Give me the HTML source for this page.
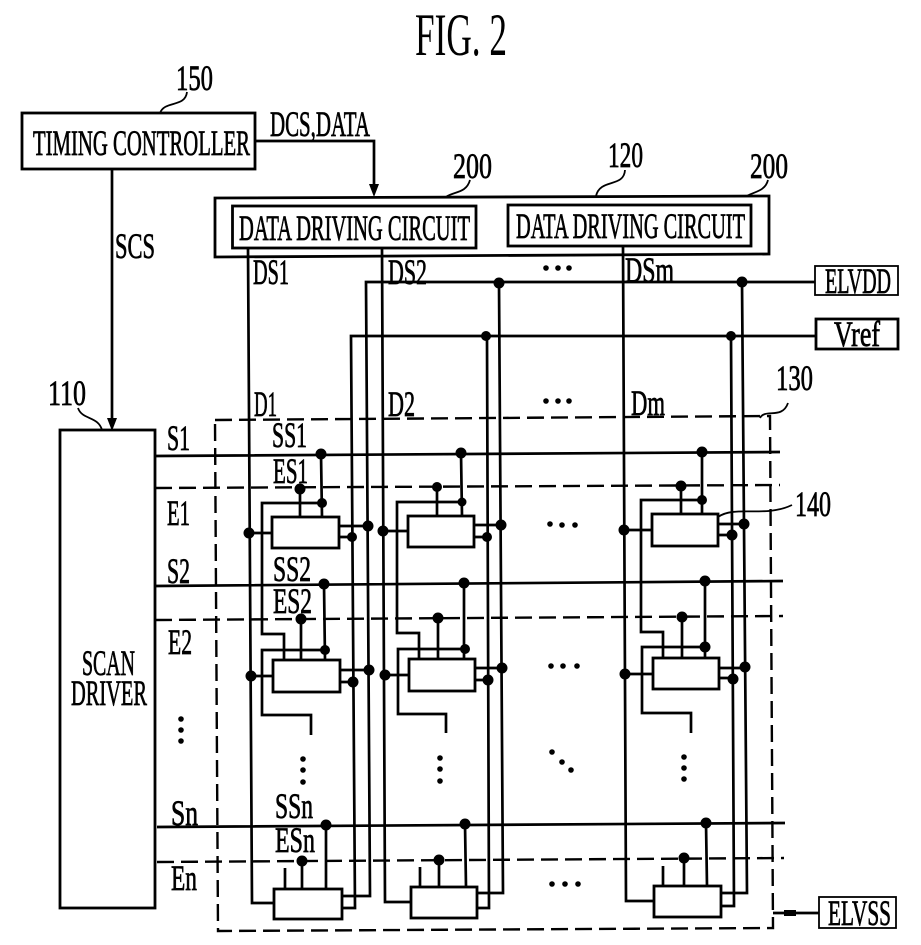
<!DOCTYPE html>
<html><head><meta charset="utf-8"><style>
html,body{margin:0;padding:0;background:#fff}
svg{display:block}
.l{fill:none;stroke:#000;stroke-width:2.7}
.th{fill:none;stroke:#000;stroke-width:1.8}
.d{fill:none;stroke:#000;stroke-width:2.4;stroke-dasharray:17 7}
.b{fill:#fff;stroke:#000;stroke-width:2.8}
text{font-family:"Liberation Serif",serif;font-size:36px;fill:#000;stroke:#000;stroke-width:.75}
</style></head><body>
<svg width="921" height="945" viewBox="0 0 921 945" xmlns="http://www.w3.org/2000/svg">
<rect width="921" height="945" fill="#fff"/>
<text x="415" y="55" style="font-size:60px;stroke-width:0" textLength="92" lengthAdjust="spacingAndGlyphs">FIG. 2</text>

<!-- dashed panel -->
<path class="d" d="M215 420L770 416L773 928L218 931Z"/>
<path class="d" d="M155 488L780 485M155 620L783 616M157 862L784 858"/>

<!-- leaders -->
<path class="th" d="M187 92C185 108 165 100 160 113M625 170C624 188 600 178 596 196M470 180C465 198 445 188 440 206M768 180C764 196 744 190 739 205M788 403C782 420 765 408 760 418M102 430C98 416 82 420 78 408M718 517C735 505 765 518 792 505"/>

<!-- boxes top -->
<rect class="b" x="22" y="113" width="233" height="56"/>
<path class="b" d="M215 198L769 196L769 254L215 257Z"/>
<rect class="b" x="232.500" y="206" width="243.500" height="42"/>
<rect class="b" x="508" y="205" width="243" height="41"/>
<rect class="b" x="60" y="430" width="95" height="478"/>
<rect class="th" x="815" y="266" width="83" height="29"/>
<rect class="b" x="816" y="319" width="82" height="30"/>
<rect class="th" x="819" y="897" width="77" height="31"/>

<!-- top connectors -->
<path class="l" d="M255 141H374V192M112 169V424"/>
<path d="M369 184H379L374 197ZM107 418H117L112 431Z" fill="#000"/>

<!-- vertical & supply lines -->
<path class="l" d="M248 248L252 903H274M382 248L385 902H411M623 246L626 901H653"/>
<path class="l" d="M815 282H366L370 896H343M499 283L503 893H477M742 282L747 893H721"/>
<path class="l" d="M816 336H351L355 908H343M487 337L489 908H477M731 336L734 906H721"/>
<path class="l" d="M773 913H819"/>
<path d="M784 910H796V916H784Z" fill="#000"/>

<!-- scan lines -->
<path class="l" d="M155 456L780 452M155 586L783 581M157 827L785 823"/>

<!-- cell wiring col 1 -->
<path class="l" d="M321 454L322 517M300 489V517M322 503H262V634H284V660M324 584L325 660M301 619V660M325 650H262V715H311V735M249 533H272M339 526H368M339 537H352M251 676H273M340 670H369M340 682H353M326 825V889M302 861V889M285 868V889"/>
<!-- col 2 -->
<path class="l" d="M461 453L462 516M437 487V516M462 502H397V633H419V660M464 583V659M438 618V659M465 649H398V714H446V733M383 531H408M474 525H501M474 537H487M385 675H409M475 668H502M475 680H488M465 824L466 887M439 860V887M420 867V887"/>
<!-- col 3 -->
<path class="l" d="M702 452V514M681 486V514M702 500H641V632H663V658M705 581V658M682 617V658M705 647H642V713H691V733M624 530H652M718 524H744M718 535H732M625 674H653M719 668H745M719 678H733M706 823L707 886M684 858V886M663 866V886"/>

<!-- cells -->
<g>
<rect class="b" x="272" y="517" width="67" height="31"/><rect class="b" x="273" y="660" width="67" height="32"/><rect class="b" x="274" y="889" width="68" height="30"/>
<rect class="b" x="408" y="516" width="66" height="31"/><rect class="b" x="409" y="659" width="66" height="32"/><rect class="b" x="411" y="887" width="66" height="31"/>
<rect class="b" x="652" y="514" width="66" height="32"/><rect class="b" x="653" y="658" width="66" height="31"/><rect class="b" x="654" y="886" width="67" height="31"/>
</g>

<!-- dots -->
<g fill="#000" stroke="#000" stroke-width="1">
<circle cx="499" cy="283" r="5"/><circle cx="742" cy="282" r="5"/><circle cx="486" cy="336" r="4.500"/><circle cx="731" cy="336" r="4.500"/>
<circle cx="321" cy="454" r="5"/><circle cx="300" cy="489" r="5"/><circle cx="322" cy="503" r="4.500"/><circle cx="249" cy="533" r="5"/><circle cx="368" cy="526" r="5"/><circle cx="352" cy="537" r="4.500"/>
<circle cx="324" cy="584" r="5"/><circle cx="301" cy="619" r="5"/><circle cx="325" cy="650" r="4.500"/><circle cx="251" cy="676" r="5"/><circle cx="369" cy="670" r="5"/><circle cx="353" cy="682" r="5"/>
<circle cx="326" cy="825" r="5"/><circle cx="302" cy="861" r="5"/>
<circle cx="461" cy="453" r="5"/><circle cx="437" cy="487" r="4.500"/><circle cx="462" cy="502" r="4"/><circle cx="383" cy="531" r="5"/><circle cx="501" cy="525" r="5"/><circle cx="487" cy="537" r="4.500"/>
<circle cx="464" cy="583" r="5"/><circle cx="438" cy="618" r="5"/><circle cx="465" cy="649" r="4.500"/><circle cx="385" cy="675" r="5"/><circle cx="502" cy="668" r="5"/><circle cx="488" cy="680" r="5"/>
<circle cx="465" cy="824" r="5"/><circle cx="439" cy="860" r="5"/>
<circle cx="702" cy="452" r="5"/><circle cx="681" cy="486" r="5"/><circle cx="702" cy="500" r="4.500"/><circle cx="624" cy="530" r="5"/><circle cx="744" cy="524" r="5"/><circle cx="732" cy="535" r="5"/>
<circle cx="705" cy="581" r="5"/><circle cx="682" cy="617" r="5"/><circle cx="705" cy="647" r="5"/><circle cx="625" cy="674" r="5"/><circle cx="745" cy="667" r="5"/><circle cx="733" cy="679" r="5"/>
<circle cx="706" cy="823" r="5"/><circle cx="684" cy="858" r="5"/>
</g>
<!-- ellipses -->
<g fill="#000">
<circle cx="546" cy="268" r="2.800"/><circle cx="558" cy="268" r="2.800"/><circle cx="569" cy="268" r="2.800"/>
<circle cx="546" cy="401" r="2.800"/><circle cx="558" cy="401" r="2.800"/><circle cx="569" cy="401" r="2.800"/>
<circle cx="550" cy="524" r="2.800"/><circle cx="562" cy="525" r="2.800"/><circle cx="575" cy="525" r="2.800"/>
<circle cx="551" cy="666" r="2.800"/><circle cx="563" cy="666" r="2.800"/><circle cx="577" cy="666" r="2.800"/>
<circle cx="552" cy="884" r="2.800"/><circle cx="565" cy="884" r="2.800"/><circle cx="578" cy="884" r="2.800"/>
<circle cx="303" cy="759" r="2.800"/><circle cx="303" cy="770" r="2.800"/><circle cx="303" cy="782" r="2.800"/>
<circle cx="440" cy="758" r="2.800"/><circle cx="440" cy="769" r="2.800"/><circle cx="440" cy="781" r="2.800"/>
<circle cx="552" cy="752" r="2.800"/><circle cx="562" cy="762" r="2.800"/><circle cx="571" cy="770" r="2.800"/>
<circle cx="684" cy="757" r="2.800"/><circle cx="684" cy="768" r="2.800"/><circle cx="684" cy="779" r="2.800"/>
<circle cx="181" cy="719" r="2.800"/><circle cx="181" cy="730" r="2.800"/><circle cx="181" cy="741" r="2.800"/>
</g>

<!-- text -->
<g>
<text x="33" y="155" textLength="217" lengthAdjust="spacingAndGlyphs">TIMING CONTROLLER</text>
<text x="176" y="90" textLength="37" lengthAdjust="spacingAndGlyphs">150</text>
<text x="270" y="136" textLength="100" lengthAdjust="spacingAndGlyphs">DCS,DATA</text>
<text x="115" y="258" textLength="40" lengthAdjust="spacingAndGlyphs">SCS</text>
<text x="453" y="178" textLength="39" lengthAdjust="spacingAndGlyphs">200</text>
<text x="608" y="167" textLength="35" lengthAdjust="spacingAndGlyphs">120</text>
<text x="750" y="178" textLength="38" lengthAdjust="spacingAndGlyphs">200</text>
<text x="239" y="240" textLength="231" lengthAdjust="spacingAndGlyphs">DATA DRIVING CIRCUIT</text>
<text x="516" y="238" textLength="229" lengthAdjust="spacingAndGlyphs">DATA DRIVING CIRCUIT</text>
<text x="253" y="284" textLength="36" lengthAdjust="spacingAndGlyphs">DS1</text>
<text x="388" y="284" textLength="39" lengthAdjust="spacingAndGlyphs">DS2</text>
<text x="625" y="282" textLength="49" lengthAdjust="spacingAndGlyphs">DSm</text>
<text x="825" y="293" textLength="66" lengthAdjust="spacingAndGlyphs">ELVDD</text>
<text x="834" y="346" textLength="46" lengthAdjust="spacingAndGlyphs">Vref</text>
<text x="254" y="416" textLength="23" lengthAdjust="spacingAndGlyphs">D1</text>
<text x="388" y="416" textLength="27" lengthAdjust="spacingAndGlyphs">D2</text>
<text x="631" y="415" textLength="34" lengthAdjust="spacingAndGlyphs">Dm</text>
<text x="776" y="390" textLength="37" lengthAdjust="spacingAndGlyphs">130</text>
<text x="48" y="405" textLength="38" lengthAdjust="spacingAndGlyphs">110</text>
<text x="795" y="516" textLength="36" lengthAdjust="spacingAndGlyphs">140</text>
<text x="82" y="675" textLength="53" lengthAdjust="spacingAndGlyphs">SCAN</text>
<text x="71" y="705" textLength="76" lengthAdjust="spacingAndGlyphs">DRIVER</text>
<text x="167" y="450" textLength="23" lengthAdjust="spacingAndGlyphs">S1</text>
<text x="167" y="525" textLength="23" lengthAdjust="spacingAndGlyphs">E1</text>
<text x="167" y="583" textLength="23" lengthAdjust="spacingAndGlyphs">S2</text>
<text x="168" y="654" textLength="24" lengthAdjust="spacingAndGlyphs">E2</text>
<text x="171" y="825" textLength="27" lengthAdjust="spacingAndGlyphs">Sn</text>
<text x="171" y="890" textLength="26" lengthAdjust="spacingAndGlyphs">En</text>
<text x="272" y="447" textLength="35" lengthAdjust="spacingAndGlyphs">SS1</text>
<text x="273" y="483" textLength="35" lengthAdjust="spacingAndGlyphs">ES1</text>
<text x="273" y="581" textLength="38" lengthAdjust="spacingAndGlyphs">SS2</text>
<text x="273" y="613" textLength="39" lengthAdjust="spacingAndGlyphs">ES2</text>
<text x="275" y="818" textLength="38" lengthAdjust="spacingAndGlyphs">SSn</text>
<text x="275" y="852" textLength="40" lengthAdjust="spacingAndGlyphs">ESn</text>
<text x="828" y="925" textLength="63" lengthAdjust="spacingAndGlyphs">ELVSS</text>
</g>
</svg>
</body></html>
